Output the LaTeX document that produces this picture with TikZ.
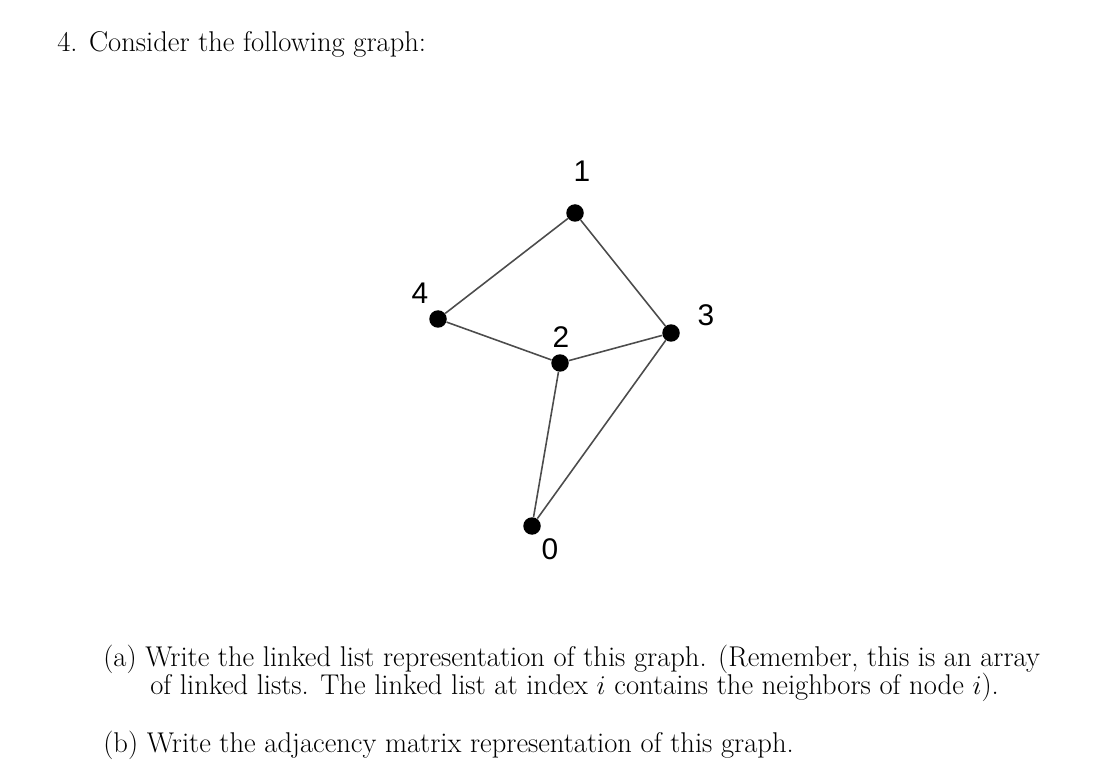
\documentclass[tikz,border=0pt]{standalone}
\usepackage{fontspec}
\newfontfamily\lab{Liberation Sans}
\newcommand{\wide}[1]{\scalebox{1.07}{#1}}
\begin{document}
\begin{tikzpicture}[x=0.02cm,y=-0.02cm,
  vtx/.style={circle,fill=black,inner sep=0pt,minimum size=0.35cm},
  edge/.style={draw=black!70,line width=0.9pt},
  lbl/.style={font=\lab\fontsize{17}{19}\selectfont},
  txt/.style={anchor=base west,inner sep=0pt,font=\fontsize{15.2}{19}\selectfont}]
\useasboundingbox (0,0) rectangle (1118,776);
\node[vtx] (n1) at (575,213) {};
\node[vtx] (n4) at (438,319) {};
\node[vtx] (n2) at (560,363) {};
\node[vtx] (n3) at (671,333) {};
\node[vtx] (n0) at (532,526) {};
\draw[edge] (n1)--(n4) (n1)--(n3) (n4)--(n2) (n2)--(n3) (n2)--(n0) (n3)--(n0);
\node[lbl] (l1) at (582,171) {1};
\node[lbl] (l4) at (420,293) {4};
\node[lbl] (l2) at (561,337) {2};
\node[lbl] (l3) at (706,315) {3};
\node[lbl] (l0) at (550,549) {0};
\node[txt] (t0) at (57,52) {\wide{4. Consider the following graph:}};
\node[txt] (ta) at (103,666) {\wide{(a) Write the linked list representation of this graph. (Remember, this is an array}};
\node[txt] (ta2) at (150,694) {\wide{of linked lists. The linked list at index $i$ contains the neighbors of node $i$).}};
\node[txt] (tb) at (103,752) {\wide{(b) Write the adjacency matrix representation of this graph.}};
\end{tikzpicture}
\end{document}
